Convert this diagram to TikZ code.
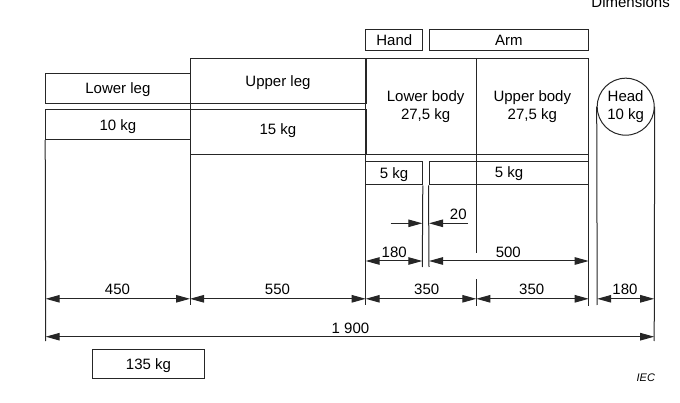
\documentclass[tikz,border=0pt]{standalone}
\usepackage{fontspec}
\setmainfont{Liberation Sans}
\usetikzlibrary{arrows.meta}
\begin{document}
\begin{tikzpicture}[x=1pt,y=-1pt,
  ln/.style={line width=1pt, draw=black!85},
  box/.style={ln, rectangle, inner sep=0pt, text height=10.74pt, text depth=0pt, font=\fontsize{15}{17.6}\selectfont},
  txt/.style={inner sep=0pt, anchor=base, font=\fontsize{15}{17.6}\selectfont},
  dimline/.style={ln, {Triangle[length=14pt,width=7.5pt]}-{Triangle[length=14pt,width=7.5pt]}},
  halfdim/.style={ln, -{Triangle[length=14pt,width=7.5pt]}},
  ext/.style={ln},
]
\useasboundingbox (0,0) rectangle (680,403);

% title
\node[txt, anchor=base east] (title) at (670,7.5) {Dimensions};

% upper boxes
\node[box, minimum width=57.3pt, minimum height=21.3pt] (hand) at (394.3,40.35) {Hand};
\node[box, minimum width=159.7pt, minimum height=21.3pt] (arm) at (508.85,40.35) {Arm};

% legs
\node[box, minimum width=144.3pt, minimum height=29.6pt] (lowerleg) at (117.85,88.5) {Lower leg};
\node[box, minimum width=144.3pt, minimum height=29.3pt] (kg10) at (117.85,124.65) {10 kg};
\node[box, minimum width=176pt, minimum height=45pt] (upperleg) at (278,80.8) {};
\node[txt] (upperlegtxt) at (278,86.7) {Upper leg};
\node[box, minimum width=176pt, minimum height=44.3pt] (kg15) at (278,132.15) {};
\node[txt] (kg15txt) at (278,135) {15 kg};

% body
\node[box, minimum width=110.6pt, minimum height=96pt] (lowerbody) at (421,106.3) {};
\node[box, minimum width=112.4pt, minimum height=96pt] (upperbody) at (532.5,106.3) {};
\node[txt] (lbt1) at (425.6,101.7) {Lower body};
\node[txt] (lbt2) at (425.6,119.3) {27,5 kg};
\node[txt] (ubt1) at (532.3,101.7) {Upper body};
\node[txt] (ubt2) at (532.3,119.3) {27,5 kg};

% head
\node[ln, circle, draw, minimum size=57pt, inner sep=0pt] (head) at (625.7,106.7) {};
\node[txt] (ht1) at (625.6,101.7) {Head};
\node[txt] (ht2) at (625.6,119.3) {10 kg};

% 5 kg boxes
\node[box, minimum width=56.6pt, minimum height=23.3pt] (kg5a) at (394,173.35) {5 kg};
\node[box, minimum width=159.7pt, minimum height=23.3pt] (kg5b) at (508.85,173.35) {};
\node[txt] (kg5btxt) at (509,177.9) {5 kg};

% total mass
\node[box, minimum width=111.6pt, minimum height=29.7pt] (kg135) at (148.5,363.85) {135 kg};

% extension lines
\draw[ext] (kg10.south west) -- (45.7,341);
\draw[ext] (190,58.3) -- (190,305);
\draw[ext] (365.7,58.3) -- (365.7,305);
\draw[ext] (kg5a.south east) -- (422.3,267);
\draw[ext] (kg5b.south west) -- (429,267);
\draw[ext] (476.3,154.3) -- (476.3,253);
\draw[ext] (476.3,279.3) -- (476.3,306);
\draw[ext] (588.7,58.3) -- (588.7,306);
\draw[ext] (head.west) -- (597.2,305);
\draw[ext] (head.east) -- (654.2,341);

% dimension coordinates
\coordinate (a1) at (45.7,298.8);
\coordinate (a2) at (190,298.8);
\coordinate (a3) at (365.7,298.8);
\coordinate (a4) at (476.3,298.8);
\coordinate (a5) at (588.7,298.8);
\coordinate (a6) at (597.2,298.8);
\coordinate (a7) at (654.2,298.8);
\coordinate (t1) at (45.7,336.7);
\coordinate (t2) at (654.2,336.7);
\coordinate (h1) at (365.7,261);
\coordinate (h2) at (422.3,261);
\coordinate (h3) at (429,261);
\coordinate (h4) at (588.7,261);
\coordinate (g1) at (390.7,223.3);
\coordinate (g2) at (422.3,223.3);
\coordinate (g3) at (468,223.3);
\coordinate (g4) at (429,223.3);

\draw[dimline] (a1) -- (a2);
\draw[dimline] (a2) -- (a3);
\draw[dimline] (a3) -- (a4);
\draw[dimline] (a4) -- (a5);
\draw[dimline] (a6) -- (a7);
\draw[dimline] (t1) -- (t2);
\draw[dimline] (h1) -- (h2);
\draw[dimline] (h3) -- (h4);
\draw[halfdim] (g1) -- (g2);
\draw[halfdim] (g3) -- (g4);

% dimension labels
\node[txt] (l450) at (117.5,295) {450};
\node[txt] (l550) at (277.5,295) {550};
\node[txt] (l350a) at (426.7,295) {350};
\node[txt] (l350b) at (531.7,295) {350};
\node[txt] (l180b) at (625,295) {180};
\node[txt] (l1900) at (350.5,333.3) {1 900};
\node[txt] (l180a) at (394.2,257.3) {180};
\node[txt] (l500) at (508.3,257.3) {500};
\node[txt] (l20) at (458.3,219.8) {20};

% IEC
\node[inner sep=0pt, anchor=base, font=\fontsize{11}{13}\selectfont\itshape] (iec) at (645.8,381.7) {IEC};
\end{tikzpicture}
\end{document}
